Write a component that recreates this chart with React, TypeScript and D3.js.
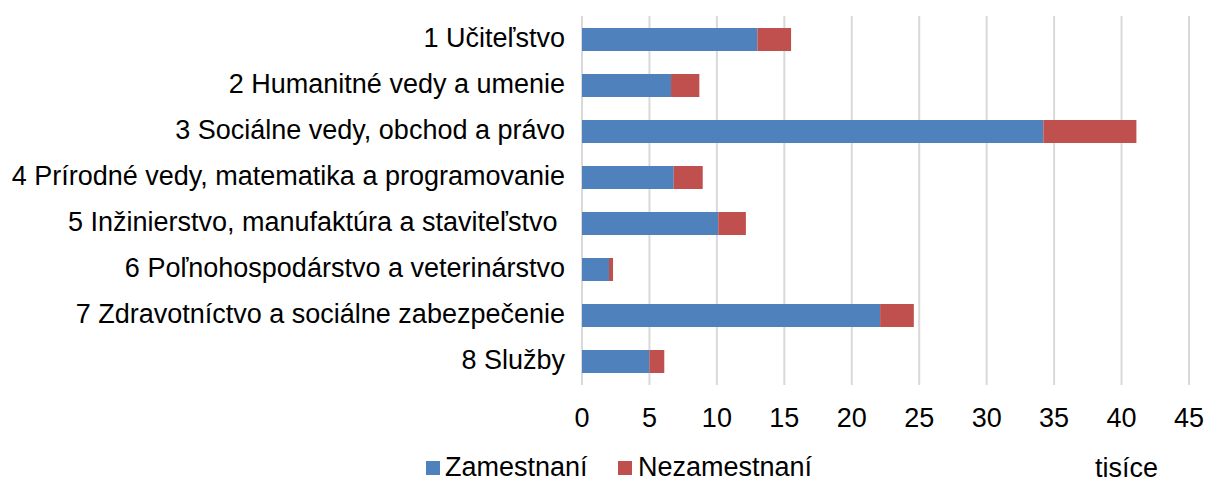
import React from "react";
import * as d3 from "d3";

const categories = [
  "1 Učiteľstvo",
  "2 Humanitné vedy a umenie",
  "3 Sociálne vedy, obchod a právo",
  "4 Prírodné vedy, matematika a programovanie",
  "5 Inžinierstvo, manufaktúra a staviteľstvo ",
  "6 Poľnohospodárstvo a veterinárstvo",
  "7 Zdravotníctvo a sociálne zabezpečenie",
  "8 Služby",
];
const zamestnani = [13.0, 6.6, 34.2, 6.8, 10.1, 2.0, 22.1, 5.0];
const nezamestnani = [2.5, 2.1, 6.9, 2.15, 2.05, 0.3, 2.5, 1.1];
const ticks = [0, 5, 10, 15, 20, 25, 30, 35, 40, 45];
const seriesNames = ["Zamestnaní", "Nezamestnaní"];
const colors = ["#4F81BD", "#C0504D"];

const W = 1207;
const H = 482;
const font = "'Liberation Sans', Arial, sans-serif";
const fs = 27;

export default function App() {
  const x = d3.scaleLinear().domain([0, 45]).range([582, 1189]);
  const y = d3.scaleBand().domain(categories).range([16.5, 384.5]).paddingInner(0.5).paddingOuter(0.25);
  return (
    <svg width={W} height={H} style={{ position: "absolute", left: 0, top: 0, background: "#fff" }}>
      {ticks.map((t) => (
        <line key={t} x1={x(t)} x2={x(t)} y1={16} y2={385} stroke="#d9d9d9" strokeWidth={2} />
      ))}
      {categories.map((c, i) => {
        const y0 = y(c)!;
        const bh = y.bandwidth();
        return (
          <g key={c}>
            <rect x={x(0)} y={y0} width={x(zamestnani[i]) - x(0)} height={bh} fill={colors[0]} />
            <rect x={x(zamestnani[i])} y={y0} width={x(zamestnani[i] + nezamestnani[i]) - x(zamestnani[i])} height={bh} fill={colors[1]} />
            <text x={565} y={y0 + bh / 2 + 7.5} textAnchor="end" fontFamily={font} fontSize={fs} fill="#000" style={{ whiteSpace: "pre" }}>{c}</text>
          </g>
        );
      })}
      {ticks.map((t) => (
        <text key={"l" + t} x={x(t)} y={427} textAnchor="middle" fontFamily={font} fontSize={fs} fill="#000">{t}</text>
      ))}
      <rect x={426} y={461} width={14} height={14} fill={colors[0]} />
      <text x={445} y={476} fontFamily={font} fontSize={fs} fill="#000">{seriesNames[0]}</text>
      <rect x={618} y={461} width={14} height={14} fill={colors[1]} />
      <text x={638} y={476} fontFamily={font} fontSize={fs} fill="#000">{seriesNames[1]}</text>
      <text x={1095} y={477} fontFamily={font} fontSize={fs} fill="#000">tisíce</text>
    </svg>
  );
}
